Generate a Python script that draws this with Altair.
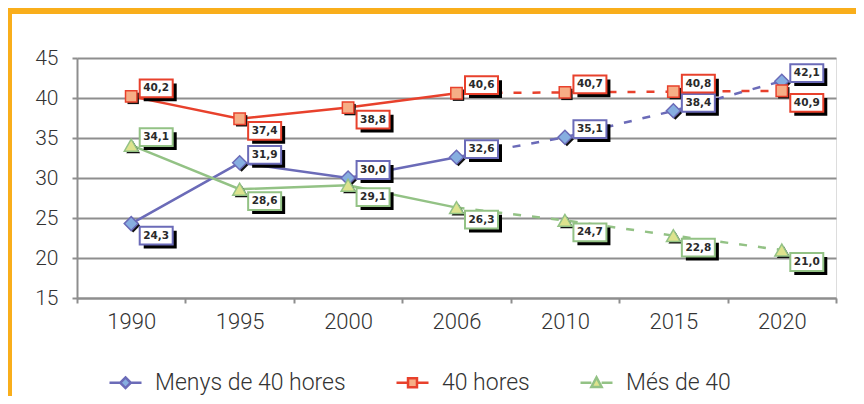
import altair as alt
import pandas as pd

# ---- data ----
years = ["1990", "1995", "2000", "2006", "2010", "2015", "2020"]
series = ["Menys de 40 hores", "40 hores", "Més de 40"]
menys = [24.3, 31.9, 30.0, 32.6, 35.1, 38.4, 42.1]
quaranta = [40.2, 37.4, 38.8, 40.6, 40.7, 40.8, 40.9]
mes = [34.1, 28.6, 29.1, 26.3, 24.7, 22.8, 21.0]
side_menys = ["below", "above", "above", "above", "above", "above", "above"]
side_40 = ["above", "below", "below", "above", "above", "above", "below"]
side_mes = ["above", "below", "below", "below", "below", "below", "below"]

# ---- style ----
line_colors = ["#6B6BB8", "#E8412C", "#93C285"]
fill_colors = ["#86AEE0", "#F6AE86", "#DDE38E"]
marker_shapes = ["diamond", "square", "triangle-up"]
marker_sizes = [196, 130, 190]
legend_paths = [
    "M-1,0H-0.33M0.33,0H1M0,-0.33L0.33,0L0,0.33L-0.33,0Z",
    "M-1,0H-0.28M0.28,0H1M-0.28,-0.28H0.28V0.28H-0.28Z",
    "M-1,0H-0.32M0.32,0H1M0,-0.34L0.32,0.26L-0.32,0.26Z",
]
box_path = "M-1,-0.54H1V0.54H-1Z"
FONT = "Roboto"
GRID = "#8E8E8E"

rows = []
for s, vals, sides in zip(series, [menys, quaranta, mes], [side_menys, side_40, side_mes]):
    i = series.index(s)
    for y, v, sd in zip(years, vals, sides):
        rows.append({
            "year": y, "serie": s, "value": v,
            "label": f"{v:.1f}".replace(".", ","),
            "side": sd, "col": line_colors[i], "fill": fill_colors[i],
            "shape": marker_shapes[i], "msize": marker_sizes[i],
        })
df = pd.DataFrame(rows)

x_enc = alt.X(
    "year:N",
    scale=alt.Scale(type="band", domain=years, paddingInner=0, paddingOuter=0),
    axis=alt.Axis(title=None, labelAngle=0, tickBand="extent", grid=False,
                  domainColor=GRID, domainWidth=2, tickColor=GRID, tickWidth=2,
                  tickSize=5, labelFontSize=22, labelFont=FONT, labelFontWeight=300,
                  labelColor="#333333", labelPadding=8),
)
y_enc = alt.Y(
    "value:Q",
    scale=alt.Scale(domain=[15, 45], nice=False, zero=False),
    axis=alt.Axis(title=None, values=[15, 20, 25, 30, 35, 40, 45], grid=True,
                  gridColor=GRID, gridWidth=2, domainColor=GRID, domainWidth=2,
                  tickColor=GRID, tickWidth=2, tickSize=5, labelFontSize=21,
                  labelFont=FONT, labelFontWeight=300, labelColor="#333333",
                  labelPadding=14),
)

base = alt.Chart(df)

solid = base.transform_filter("datum.year <= '2006'").mark_line(strokeWidth=2.5).encode(
    x=x_enc, y=y_enc, stroke=alt.Stroke("col:N", scale=None), detail="serie:N")
dashed = base.transform_filter("datum.year >= '2006'").mark_line(
    strokeWidth=2.5, strokeDash=[8, 11]).encode(
    x=x_enc, y=y_enc, stroke=alt.Stroke("col:N", scale=None), detail="serie:N")

marker_shadow = base.mark_point(filled=True, opacity=1, color="#111111",
                                xOffset=2, yOffset=2).encode(
    x=x_enc, y=y_enc, shape=alt.Shape("shape:N", scale=None),
    size=alt.Size("msize:Q", scale=None))
markers = base.mark_point(filled=True, opacity=1, strokeWidth=1.5).encode(
    x=x_enc, y=y_enc, shape=alt.Shape("shape:N", scale=None),
    size=alt.Size("msize:Q", scale=None),
    fill=alt.Fill("fill:N", scale=None), stroke=alt.Stroke("col:N", scale=None))

label_layers = []
for sd, dy in [("above", -8), ("below", 12)]:
    sub = base.transform_filter(f"datum.side == '{sd}'")
    label_layers.append(sub.mark_point(shape=box_path, size=1089, filled=True,
                                       color="#000000", opacity=1,
                                       xOffset=29, yOffset=dy + 4).encode(x=x_enc, y=y_enc))
    label_layers.append(sub.mark_point(shape=box_path, size=1089, filled=True,
                                       fill="white", opacity=1, strokeWidth=2,
                                       xOffset=25, yOffset=dy).encode(
        x=x_enc, y=y_enc, stroke=alt.Stroke("col:N", scale=None)))
    label_layers.append(sub.mark_text(font="DejaVu Sans", fontWeight="bold",
                                      fontSize=10.5, color="#2A2A2A",
                                      xOffset=25, yOffset=dy).encode(
        x=x_enc, y=y_enc, text="label:N"))

legend_layer = base.transform_filter("false").mark_point(
    filled=True, opacity=1, size=1024, strokeWidth=2.5).encode(
    x=x_enc, y=y_enc,
    shape=alt.Shape("serie:N", scale=alt.Scale(domain=series, range=legend_paths),
                    legend=alt.Legend(title=None, orient="none", legendX=31, legendY=307,
                                      direction="horizontal", symbolSize=1024,
                                      symbolStrokeWidth=2.5, labelFontSize=23,
                                      labelFont=FONT, labelFontWeight=300,
                                      labelColor="#333333", labelOffset=12,
                                      labelLimit=0, columnPadding=45,
                                      symbolOpacity=1)),
    fill=alt.Fill("serie:N", scale=alt.Scale(domain=series, range=fill_colors)),
    stroke=alt.Stroke("serie:N", scale=alt.Scale(domain=series, range=line_colors)),
)

frame_top = alt.Chart(df).mark_rule(color="#F9AE1B", strokeWidth=6).encode(
    x=alt.value(-69), x2=alt.value(780), y=alt.value(-47))
frame_left = alt.Chart(df).mark_rule(color="#F9AE1B", strokeWidth=4).encode(
    x=alt.value(-67), y=alt.value(-50), y2=alt.value(340))

chart = alt.layer(
    frame_top, frame_left, solid, dashed, marker_shadow, markers,
    *label_layers, legend_layer
).properties(
    width=759, height=240,
    padding={"left": 69, "top": 50, "right": 20, "bottom": 98},
    autosize=alt.AutoSizeParams(type="none"),
).configure_view(stroke=None, fill="#FAFAFA").configure(background="white")

chart.save("out.html", embed_options={"renderer": "svg", "actions": False})
